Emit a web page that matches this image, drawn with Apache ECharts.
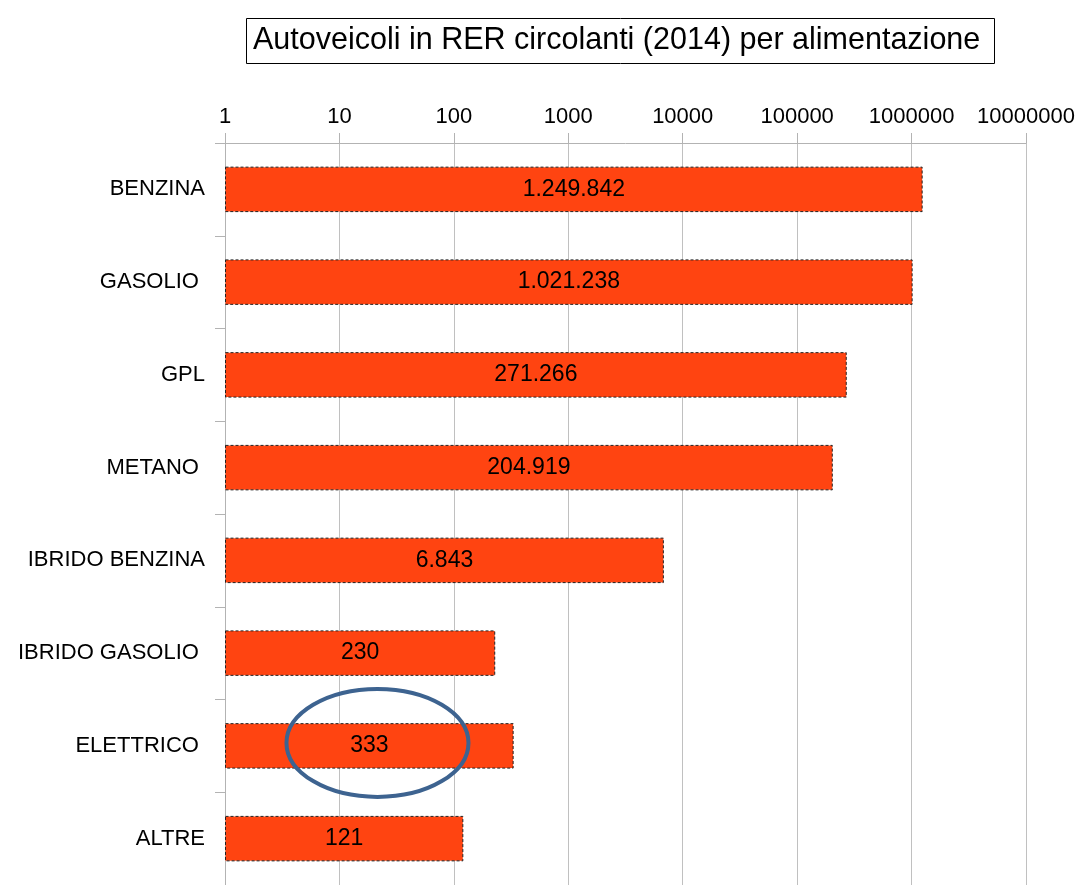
<!DOCTYPE html>
<html style="height: 100%">
<head>
<meta charset="utf-8" />
<title>Autoveicoli per alimentazione</title>
<script type="text/javascript" src="https://cdn.jsdelivr.net/npm/echarts@6/dist/echarts.min.js"></script>
</head>
<body style="height: 100%; margin: 0; background: #fff;">
<div id="container" style="width: 1082px; height: 885px;"></div>
<script type="text/javascript">
var categories = ['BENZINA', 'GASOLIO ', 'GPL', 'METANO ', 'IBRIDO BENZINA', 'IBRIDO GASOLIO ', 'ELETTRICO ', 'ALTRE'];
var values = [1249842, 1021238, 271266, 204919, 6843, 230, 333, 121];
var axisMin = 1;
var axisMax = 10000000;
// punto centrale dell'ellisse di evidenziazione (valore, categoria)
var highlightAt = [21.5, 'ELETTRICO '];

function fmtIt(v) {
    return String(v).replace(/\B(?=(\d{3})+(?!\d))/g, '.');
}

var myChart = echarts.init(document.getElementById('container'));
var option = {
    animation: false,
    title: {
        text: 'Autoveicoli in RER circolanti (2014) per alimentazione',
        left: 246,
        top: 18,
        padding: [7, 14, 7, 7],
        borderWidth: 1,
        borderColor: '#000',
        textStyle: {
            fontFamily: 'Liberation Sans',
            fontSize: 30.5,
            lineHeight: 32,
            fontWeight: 'normal',
            color: '#000'
        }
    },
    grid: {
        left: 225,
        top: 143,
        width: 801,
        height: 746
    },
    xAxis: {
        type: 'log',
        logBase: 10,
        position: 'top',
        min: axisMin,
        max: axisMax,
        axisLine: { show: true, lineStyle: { color: '#b3b3b3', width: 1 } },
        axisTick: { show: true, inside: false, length: 10, lineStyle: { color: '#b3b3b3' } },
        splitLine: { show: true, lineStyle: { color: '#c0c0c0', width: 1 } },
        axisLabel: {
            margin: 15,
            fontFamily: 'Liberation Sans',
            fontSize: 22,
            color: '#000',
            formatter: function (v) { return String(Math.round(v)); }
        }
    },
    yAxis: {
        type: 'category',
        inverse: true,
        data: categories,
        axisLine: { show: true, lineStyle: { color: '#b3b3b3', width: 1 } },
        axisTick: { show: true, length: 10, lineStyle: { color: '#b3b3b3' } },
        axisLabel: {
            margin: 20,
            fontFamily: 'Liberation Sans',
            fontSize: 22,
            color: '#000'
        }
    },
    series: [
        {
            type: 'bar',
            data: values,
            barWidth: '49%',
            itemStyle: {
                color: '#ff4411',
                borderColor: '#222',
                borderWidth: 1,
                borderType: [3, 2]
            },
            label: {
                show: true,
                position: 'inside',
                fontFamily: 'Liberation Sans',
                fontSize: 23,
                color: '#000',
                formatter: function (p) { return fmtIt(p.value); }
            }
        }
    ]
};
myChart.setOption(option);

var c = myChart.convertToPixel({ gridIndex: 0 }, highlightAt);
myChart.setOption({
    graphic: [
        {
            type: 'ellipse',
            shape: { cx: c[0], cy: c[1] - 3, rx: 91, ry: 54 },
            style: { fill: 'none', stroke: '#3d6390', lineWidth: 4 },
            z: 100
        }
    ]
});
</script>
</body>
</html>
